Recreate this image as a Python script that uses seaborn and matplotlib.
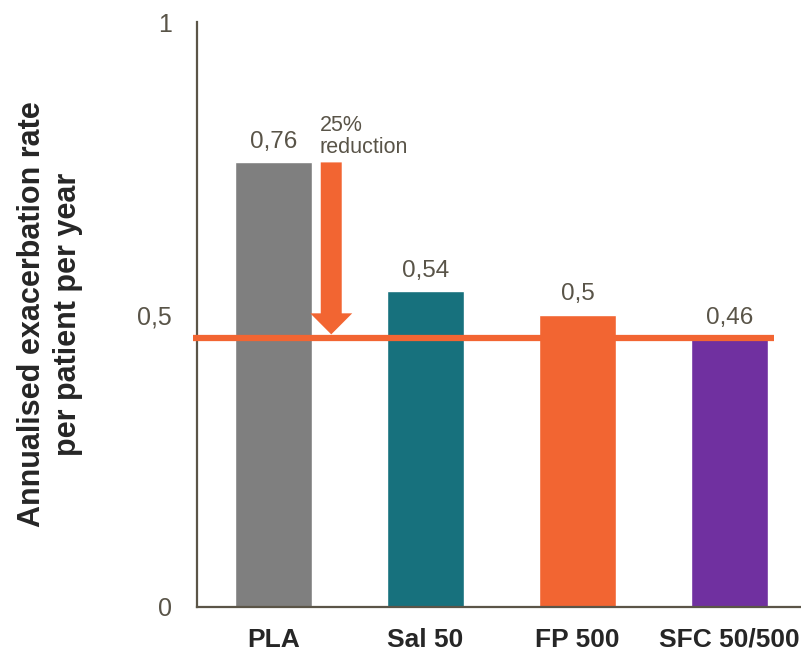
import matplotlib
matplotlib.use("Agg")
import matplotlib.pyplot as plt
import seaborn as sns
import pandas as pd
from matplotlib.patches import FancyArrow

categories = ["PLA", "Sal 50", "FP 500", "SFC 50/500"]
values = [0.76, 0.54, 0.50, 0.46]
value_labels = ["0,76", "0,54", "0,5", "0,46"]
colors = ["#7F7F7F", "#17717D", "#F26532", "#7030A0"]
yticks = [0, 0.5, 1]
ytick_labels = ["0", "0,5", "1"]
ylabel = "Annualised exacerbation rate\nper patient per year"
note = "25%\nreduction"

sns.set_style("white")
plt.rcParams["font.family"] = ["Liberation Sans", "DejaVu Sans"]
text_color = "#595448"
orange = "#F26532"

df = pd.DataFrame({"cat": categories, "val": values})
fig = plt.figure(figsize=(8.01, 6.52), dpi=100)
ax = fig.add_axes([197 / 801, 45 / 652, 604 / 801, 585 / 652])
sns.barplot(data=df, x="cat", y="val", hue="cat", palette=colors, width=0.506,
            legend=False, ax=ax, saturation=1)

ax.set_xlim(-0.503, 3.47)
ax.set_ylim(0, 1)
ax.set_yticks(yticks)
ax.set_yticklabels(ytick_labels, fontsize=18, color=text_color)
ax.tick_params(axis="y", length=0, pad=18)
ax.tick_params(axis="x", length=0, pad=15)
for lab in ax.get_xticklabels():
    lab.set_fontweight("bold")
    lab.set_fontsize(19)
    lab.set_color("#262626")
ax.set_xlabel("")
ax.set_ylabel("")
fig.text(50 / 801, 1 - 314 / 652, ylabel, rotation=90, ha="center", va="center",
         fontsize=22, fontweight="bold", color="#262626", linespacing=1.3,
         multialignment="center")

for s in ["top", "right"]:
    ax.spines[s].set_visible(False)
for s in ["left", "bottom"]:
    ax.spines[s].set_color("#5B5548")
    ax.spines[s].set_linewidth(1.6)

for i, (v, t) in enumerate(zip(values, value_labels)):
    ax.annotate(t, xy=(i, v), xytext=(0, 6.5), textcoords="offset points",
                ha="center", va="bottom", fontsize=17.5, color=text_color)

# reference line at combination level
ax.plot([-0.53, 3.29], [values[3], values[3]], color=orange, lw=4.5,
        solid_capstyle="butt", clip_on=False, zorder=5)

# reduction arrow
ax_x = 0.38
top = values[0]
tip = values[3] + 0.006
arrow = FancyArrow(ax_x, top, 0, tip - top, width=0.138, head_width=0.276,
                   head_length=0.036, length_includes_head=True,
                   color=orange, lw=0, zorder=6)
ax.add_patch(arrow)
ax.text(0.306, 0.8415, note, fontsize=15.5, color=text_color, ha="left", va="top",
        linespacing=1.05)

fig.savefig("out.png", dpi=100)
